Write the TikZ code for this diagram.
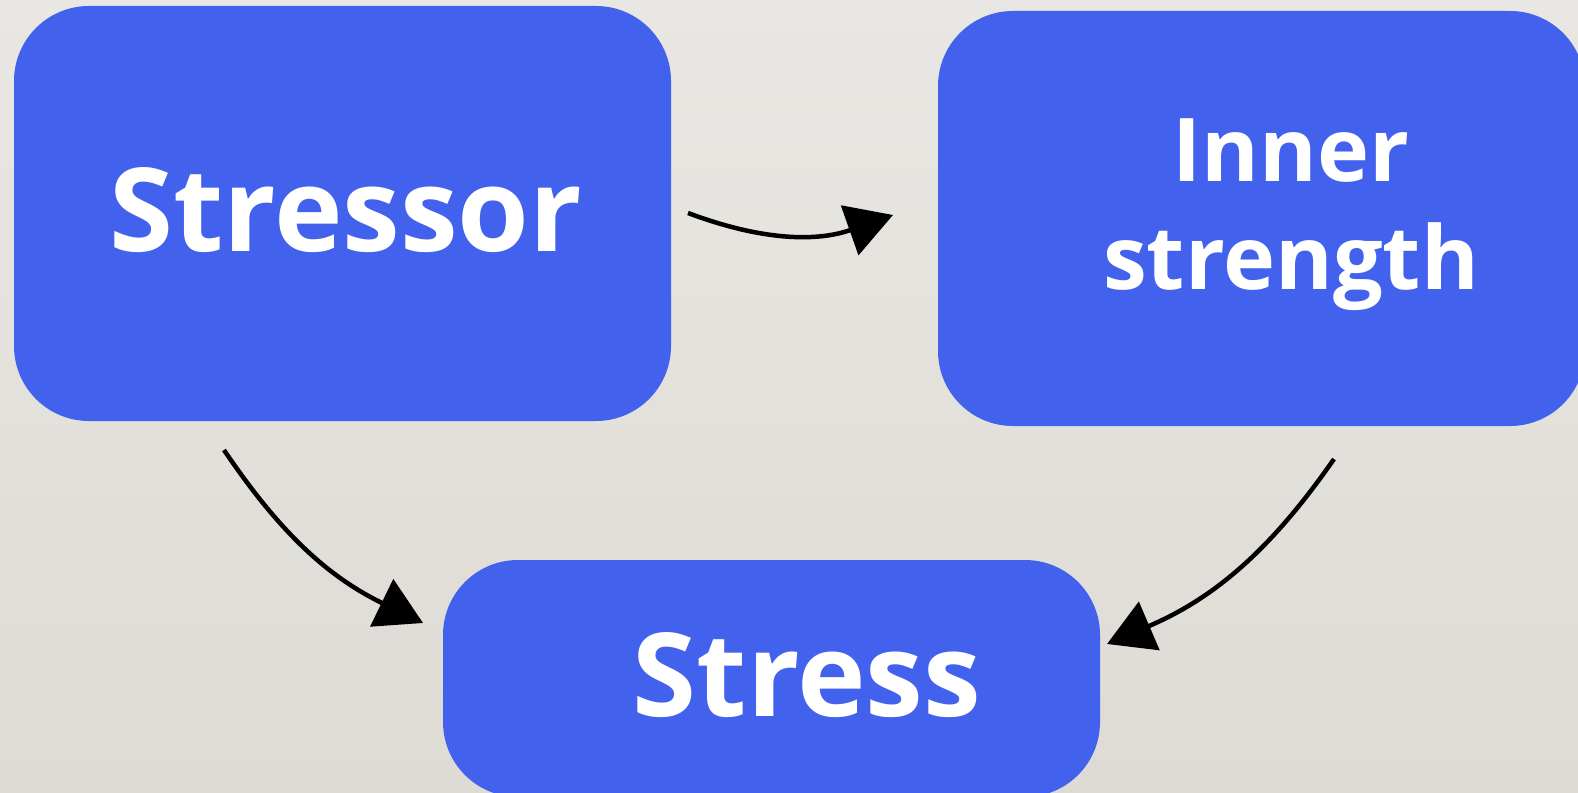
\documentclass[tikz,border=0pt]{standalone}
\usepackage{fontspec}
\setmainfont{Open Sans}
\usetikzlibrary{arrows.meta}
\definecolor{boxblue}{RGB}{66,97,236}
\definecolor{bgtop}{RGB}{233,231,227}
\definecolor{bgbot}{RGB}{222,219,213}
\tikzset{
  box/.style={rectangle, fill=boxblue, rounded corners=75pt, inner sep=0pt},
  bigtxt/.style={text=white, font=\fontsize{116}{130}\selectfont\bfseries, inner sep=0pt, anchor=base},
  midtxt/.style={text=white, font=\fontsize{88}{107}\selectfont\bfseries, inner sep=0pt, anchor=base},
  conn/.style={line width=4.5pt, -{Triangle[length=46pt,width=52pt]}}
}
\begin{document}
\begin{tikzpicture}[x=1pt,y=-1pt]
\useasboundingbox (0,0) rectangle (1578,792);
\shade[top color=bgtop, bottom color=bgbot] (0,0) rectangle (1578,792);
\begin{scope}
\clip (0,0) rectangle (1578,792);
\node[box, minimum width=657pt, minimum height=415pt] (stressor) at (342.5,213.5) {};
\node[box, minimum width=647pt, minimum height=415pt] (inner) at (1261.5,218.5) {};
\node[box, minimum width=657pt, minimum height=237pt] (stress) at (771.5,678.5) {};
\end{scope}
\node[bigtxt] (tstressor) at (346,251) {Stressor};
\node[midtxt] (tinner) at (1291,181) {Inner};
\node[midtxt] (tstrength) at (1291,289) {strength};
\node[bigtxt] (tstress) at (807,716) {Stress};
\coordinate (a1s) at (688,213);
\coordinate (a1e) at (893,215);
\coordinate (a2s) at (224,450);
\coordinate (a2e) at (423,623);
\coordinate (a3s) at (1334,459);
\coordinate (a3e) at (1107,644);
\draw[conn] (a1s) to[bend right=20] (a1e);
\draw[conn] (a2s) to[bend right=15] (a2e);
\draw[conn] (a3s) to[bend left=16] (a3e);
\end{tikzpicture}
\end{document}
